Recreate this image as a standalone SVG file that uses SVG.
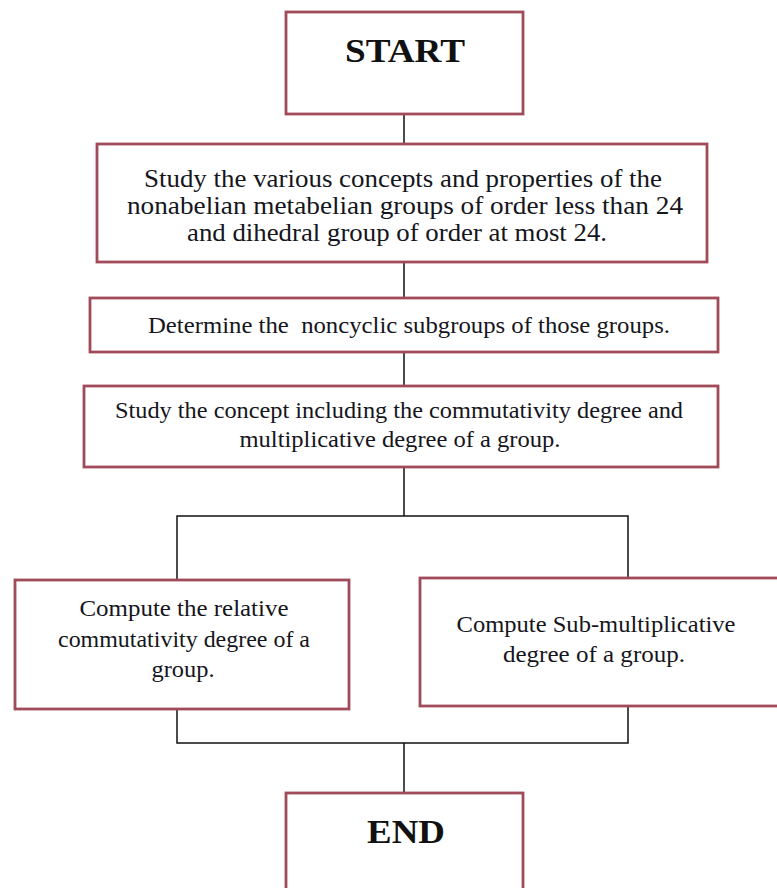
<svg xmlns="http://www.w3.org/2000/svg" width="777" height="888" viewBox="0 0 777 888">
<style>
.box{fill:#ffffff;stroke:#a04b5a;stroke-width:2.8}
.t{font-family:"Liberation Serif","Times New Roman",serif;font-size:23px;fill:#15151c;text-anchor:middle}
.t2{font-family:"Liberation Serif","Times New Roman",serif;font-size:24.5px;fill:#15151c;text-anchor:middle}
.b{font-family:"Liberation Serif","Times New Roman",serif;font-size:33px;font-weight:bold;fill:#111;text-anchor:middle}
.c{fill:none;stroke:#111;stroke-width:1.5}
</style>
<rect width="777" height="888" fill="#ffffff"/>
<g id="connectors">
<line class="c" x1="404" y1="114" x2="404" y2="144"/>
<line class="c" x1="404" y1="262" x2="404" y2="298"/>
<line class="c" x1="404" y1="352" x2="404" y2="386"/>
<line class="c" x1="404" y1="467" x2="404" y2="516"/>
<polyline class="c" points="177,580 177,516 628,516 628,578"/>
<polyline class="c" points="177,709 177,743 628,743 628,706"/>
<line class="c" x1="404" y1="743" x2="404" y2="793"/>
</g>
<g id="start">
<rect class="box" x="286" y="12" width="237" height="102"/>
<text class="b" x="405" y="62" textLength="120" lengthAdjust="spacingAndGlyphs">START</text>
</g>
<g id="study">
<rect class="box" x="97" y="144" width="610" height="118"/>
<text class="t2" x="403" y="187" textLength="518" lengthAdjust="spacingAndGlyphs">Study the various concepts and properties of the</text>
<text class="t2" x="405" y="214" textLength="556" lengthAdjust="spacingAndGlyphs">nonabelian metabelian groups of order less than 24</text>
<text class="t2" x="397" y="241" textLength="420" lengthAdjust="spacingAndGlyphs">and dihedral group of order at most 24.</text>
</g>
<g id="determine">
<rect class="box" x="90" y="298" width="628" height="54"/>
<text class="t" x="409" y="333" textLength="522" lengthAdjust="spacingAndGlyphs" xml:space="preserve">Determine the  noncyclic subgroups of those groups.</text>
</g>
<g id="concept">
<rect class="box" x="84" y="386" width="634" height="81"/>
<text class="t" x="399" y="418" textLength="568" lengthAdjust="spacingAndGlyphs">Study the concept including the commutativity degree and</text>
<text class="t" x="400" y="447" textLength="321" lengthAdjust="spacingAndGlyphs">multiplicative degree of a group.</text>
</g>
<g id="relative">
<rect class="box" x="15" y="580" width="334" height="129"/>
<text class="t" x="184" y="616" textLength="209" lengthAdjust="spacingAndGlyphs">Compute the relative</text>
<text class="t" x="184" y="647" textLength="252" lengthAdjust="spacingAndGlyphs">commutativity degree of a</text>
<text class="t" x="183" y="677" textLength="63" lengthAdjust="spacingAndGlyphs">group.</text>
</g>
<g id="submult">
<rect class="box" x="420" y="578" width="360" height="128"/>
<text class="t" x="596" y="632" textLength="279" lengthAdjust="spacingAndGlyphs">Compute Sub-multiplicative</text>
<text class="t" x="594" y="662" textLength="182" lengthAdjust="spacingAndGlyphs">degree of a group.</text>
</g>
<g id="end">
<rect class="box" x="286" y="793" width="237" height="102"/>
<text class="b" x="406" y="843" textLength="78" lengthAdjust="spacingAndGlyphs">END</text>
</g>
</svg>
